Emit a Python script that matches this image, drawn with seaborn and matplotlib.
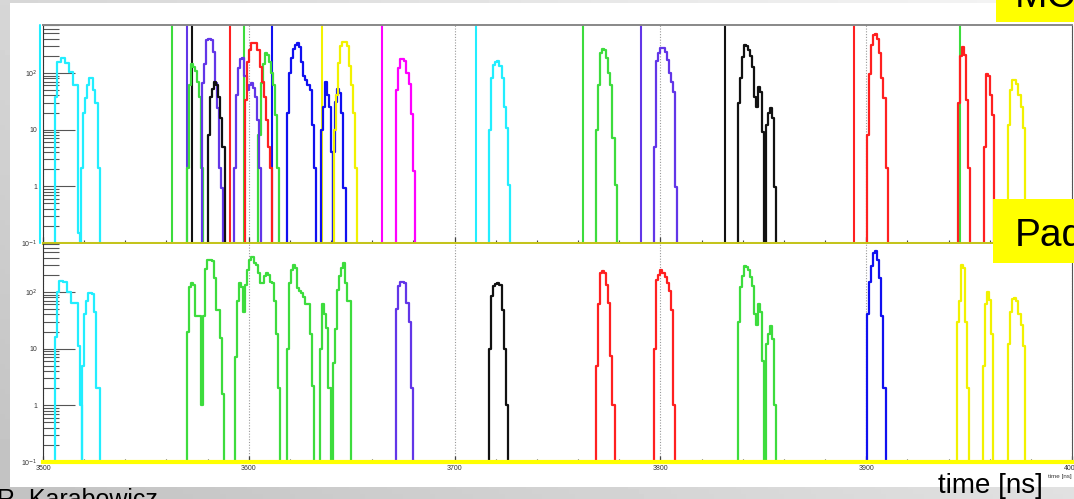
import numpy as np
import pandas as pd
import matplotlib.pyplot as plt
import matplotlib.ticker as mticker
from matplotlib.patches import Rectangle
import seaborn as sns

sns.set_style('white')
plt.rcParams['font.family'] = ['Liberation Sans', 'DejaVu Sans']
plt.rcParams['text.color'] = 'black'

colors = {'cyan': '#22eeff', 'green': '#3ddc3d', 'purple': '#6236e8', 'blue': '#1010f0',
          'black': '#111111', 'red': '#ff2020', 'yellow': '#f2f200', 'magenta': '#ff00ff'}

bin_ns = 1.0
floor = 0.05
t_range = [3500, 4000]
y_range = [0.1, 700]
x_ticks = [3500, 3600, 3700, 3800, 3900, 4000]
x_labels = ['3500', '3600', '3700', '3800', '3900', '4000']
y_ticks = [0.1, 1, 10, 100]
y_labels = ['10$^{-1}$', '1', '10', '10$^{2}$']

# MC hit times (vertical markers, upper pad)
mc_hit_colors = ['cyan', 'green', 'purple', 'black', 'red', 'green', 'blue', 'yellow',
                 'magenta', 'cyan', 'green', 'purple', 'black', 'red', 'green']
mc_hit_times = [3498.5, 3562.7, 3570.0, 3572.6, 3590.9, 3597.9, 3611.5, 3635.5,
                3664.6, 3710.5, 3762.2, 3790.6, 3831.2, 3893.9, 3945.8]

# upper pad: MC signals
mc_colors = ['cyan', 'cyan', 'green', 'purple', 'black', 'purple', 'red', 'green', 'blue',
             'blue', 'blue', 'yellow', 'magenta', 'cyan', 'green', 'purple', 'black',
             'black', 'red', 'red', 'red', 'yellow']
mc_t0 = [3505.8, 3518.5, 3569.8, 3577.4, 3580.2, 3592.9, 3598.2, 3604.7, 3618.5,
         3635.0, 3641.0, 3641.5, 3671.6, 3716.8, 3768.7, 3797.0, 3837.5,
         3851.3, 3900.4, 3944.5, 3957.1, 3969.0]
mc_vals = [
    [38, 153, 153, 180, 180, 150, 150, 103, 103, 61, 61, 0.15],
    [2.1, 20, 36, 61, 83, 80, 50, 30, 2.1],
    [2.1, 61, 142, 125, 110, 70, 38, 2.1],
    [66, 142, 377, 390, 377, 230, 66, 24, 2.1, 0.95],
    [8, 38, 53, 70, 60, 38, 16, 5],
    [2.1, 40, 120, 175, 180, 90, 50, 61, 66, 55, 38, 15, 2.1],
    [33, 155, 251, 335, 340, 335, 250, 125, 68, 38, 15, 5, 2.1],
    [8, 66, 145, 220, 210, 155, 100, 61, 18, 2.1],
    [20, 100, 180, 260, 308, 335, 290, 155, 90, 74, 61, 50, 12, 2.1],
    [10, 25, 68, 40, 25, 4],
    [4, 31, 51, 45, 20, 0.95],
    [10, 40, 150, 300, 350, 345, 300, 130, 60, 20, 2.1],
    [50, 122, 173, 173, 160, 100, 65, 19, 1.9],
    [10, 80, 137, 155, 160, 130, 80, 25, 10.5, 1.05],
    [10, 60, 220, 265, 250, 180, 100, 61, 7, 1.05],
    [5, 160, 220, 280, 270, 235, 168, 98, 70, 47, 0.97],
    [30, 80, 190, 308, 300, 250, 200, 128, 38, 25, 57, 47, 9],
    [12, 20, 24, 16, 0.97],
    [8, 97, 308, 460, 495, 400, 220, 80, 36, 2.1],
    [30, 200, 290, 205, 33, 2.1],
    [5, 95, 88, 40, 18],
    [12, 50, 74, 74, 65, 40, 25, 10.5],
]

# lower pad: pad signals
pad_colors = ['cyan', 'cyan', 'green', 'green', 'green', 'green', 'purple', 'black',
              'red', 'red', 'green', 'green', 'blue', 'yellow', 'yellow', 'yellow']
pad_t0 = [3505.8, 3518.8, 3569.9, 3593.3, 3618.5, 3634.7, 3671.6, 3716.8,
          3768.7, 3797.0, 3837.5, 3851.3, 3900.4, 3943.9, 3956.8, 3969.0]
pad_vals = [
    [16, 100, 155, 155, 150, 150, 100, 100, 64, 64, 64, 11, 1],
    [5, 40, 68, 97, 97, 92, 45, 2.0, 2.0],
    [20, 120, 144, 130, 37, 37, 37, 1.0, 37, 250, 370, 370, 350, 175, 48, 48, 15.5, 1.6],
    [7, 68, 144, 120, 45, 135, 245, 370, 410, 330, 300, 215, 144, 144, 190, 215, 200,
     150, 144, 68, 18, 2.0],
    [10, 144, 245, 300, 265, 118, 105, 97, 80, 60, 60, 18, 2.2],
    [10, 60, 40, 23, 2.0, 0.05, 5.6, 22, 110, 190, 265, 325, 144, 68, 68],
    [50, 125, 150, 150, 144, 64, 30, 2.0],
    [10, 84, 126, 140, 144, 130, 48, 10, 1.0],
    [5, 60, 215, 230, 215, 130, 64, 7.3, 1.0],
    [10, 165, 200, 245, 215, 180, 144, 102, 48, 1.0],
    [30, 120, 190, 290, 280, 245, 180, 126, 40, 26, 60, 45, 6],
    [12, 18, 25, 15, 1.0],
    [40, 150, 285, 480, 520, 370, 175, 37, 2.0],
    [30, 68, 300, 260, 30, 2.0],
    [5, 60, 98, 73, 18],
    [12, 45, 75, 78, 68, 40, 26, 11],
]


def pulses_df(cols, t0s, vals):
    rows = []
    for k, (c, t0, v) in enumerate(zip(cols, t0s, vals)):
        ts = [t0] + [t0 + i * bin_ns for i in range(len(v) + 1)]
        ys = [floor] + list(v) + [floor]
        for t, y in zip(ts, ys):
            rows.append((k, c, t, y))
    return pd.DataFrame(rows, columns=['pid', 'color', 't', 'v'])


def style_pad(ax, base_color, base_lw, show_xlabels):
    ax.set_yscale('log')
    ax.set_xlim(t_range)
    ax.set_ylim(y_range)
    ax.set_xticks(x_ticks, labels=x_labels)
    ax.xaxis.set_minor_locator(mticker.MultipleLocator(20))
    ax.set_yticks(y_ticks, labels=y_labels)
    ax.yaxis.set_minor_locator(mticker.LogLocator(base=10, subs=np.arange(2, 10)))
    ax.yaxis.set_minor_formatter(mticker.NullFormatter())
    ax.tick_params(axis='y', which='major', direction='in', length=23, width=0.8,
                   color='#555555', labelsize=5, pad=4, labelcolor='#333333',
                   left=True, right=False)
    ax.tick_params(axis='y', which='minor', direction='in', length=11.5, width=0.8,
                   color='#555555', left=True, right=False)
    ax.tick_params(axis='x', which='major', direction='in', length=4, width=0.9,
                   color='#444444', labelsize=5, pad=2, labelcolor='#333333',
                   labelbottom=show_xlabels, bottom=True, top=False)
    ax.tick_params(axis='x', which='minor', direction='in', length=2, width=0.8,
                   color='#444444', bottom=True, top=False)
    ax.grid(axis='x', which='major', ls=(0, (1, 1.5)), color='#999999', lw=0.8)
    ax.set_xlabel('')
    ax.set_ylabel('')
    ax.spines['left'].set_color('#333333')
    ax.spines['right'].set_color('#555555')
    ax.spines['top'].set_color('#888888')
    ax.spines['top'].set_linewidth(1.4)
    ax.spines['bottom'].set_color(base_color)
    ax.spines['bottom'].set_linewidth(base_lw)
    ax.set_facecolor('white')


fig = plt.figure(figsize=(10.74, 4.99), dpi=100)

# grey slide background with white frame
bg = fig.add_axes([0, 0, 1, 1], zorder=-10)
gx, gy = np.meshgrid(np.linspace(0, 1, 200), np.linspace(0, 1, 100))
bg.imshow(0.76 + 0.12 * gx + 0.08 * gy, extent=[0, 1, 0, 1], aspect='auto',
          cmap='gray', vmin=0, vmax=1, origin='lower')
bg.add_patch(Rectangle((10 / 1074, 12 / 499), 1, 484 / 499, transform=bg.transAxes,
                       facecolor='white', edgecolor='none'))
bg.set_xlim(0, 1)
bg.set_ylim(0, 1)
bg.axis('off')

ax_mc = fig.add_axes([43 / 1074, 1 - 243 / 499, 1029 / 1074, 218 / 499])
ax_pad = fig.add_axes([43 / 1074, 1 - 462 / 499, 1029 / 1074, 218 / 499])

palette = {c: colors[c] for c in colors}

df_mc = pulses_df(mc_colors, mc_t0, mc_vals)
for t, c in zip(mc_hit_times, mc_hit_colors):
    ax_mc.axvline(t, color=colors[c], lw=1.5, clip_on=(t >= t_range[0]), zorder=1)
sns.lineplot(data=df_mc, x='t', y='v', hue='color', units='pid', palette=palette,
             estimator=None, sort=False, drawstyle='steps-post', lw=1.6,
             legend=False, ax=ax_mc, zorder=2)

df_pad = pulses_df(pad_colors, pad_t0, pad_vals)
sns.lineplot(data=df_pad, x='t', y='v', hue='color', units='pid', palette=palette,
             estimator=None, sort=False, drawstyle='steps-post', lw=1.6,
             legend=False, ax=ax_pad, zorder=2)

style_pad(ax_mc, '#c4c41c', 2.2, False)
style_pad(ax_pad, '#ffff00', 3.0, True)
ax_pad.spines['top'].set_visible(False)

# labels on the slide
fig.add_artist(Rectangle((996 / 1074, 1 - 21.7 / 499), 0.1, 0.06, transform=fig.transFigure,
                         facecolor='#ffff00', edgecolor='none', zorder=10))
fig.text(1015 / 1074, 1 - 7 / 499, 'MC', fontsize=28, va='baseline', ha='left',
         color='black', zorder=11)
fig.add_artist(Rectangle((993.3 / 1074, 1 - 263.3 / 499), 0.1, 64 / 499,
                         transform=fig.transFigure, facecolor='#ffff00',
                         edgecolor='none', zorder=10))
fig.text(1015 / 1074, 1 - 246 / 499, 'Pad', fontsize=28, va='baseline', ha='left',
         color='black', zorder=11)

fig.text(938 / 1074, 1 - 493 / 499, 'time [ns]', fontsize=20, va='baseline', ha='left',
         color='black')
fig.text(1048 / 1074, 1 - 478 / 499, 'time [ns]', fontsize=4.5, va='baseline', ha='left',
         color='#333333')
fig.text(-3 / 1074, 1 - 507 / 499, 'R. Karabowicz', fontsize=18, va='baseline', ha='left',
         color='black')

fig.savefig('out.png', dpi=100)
